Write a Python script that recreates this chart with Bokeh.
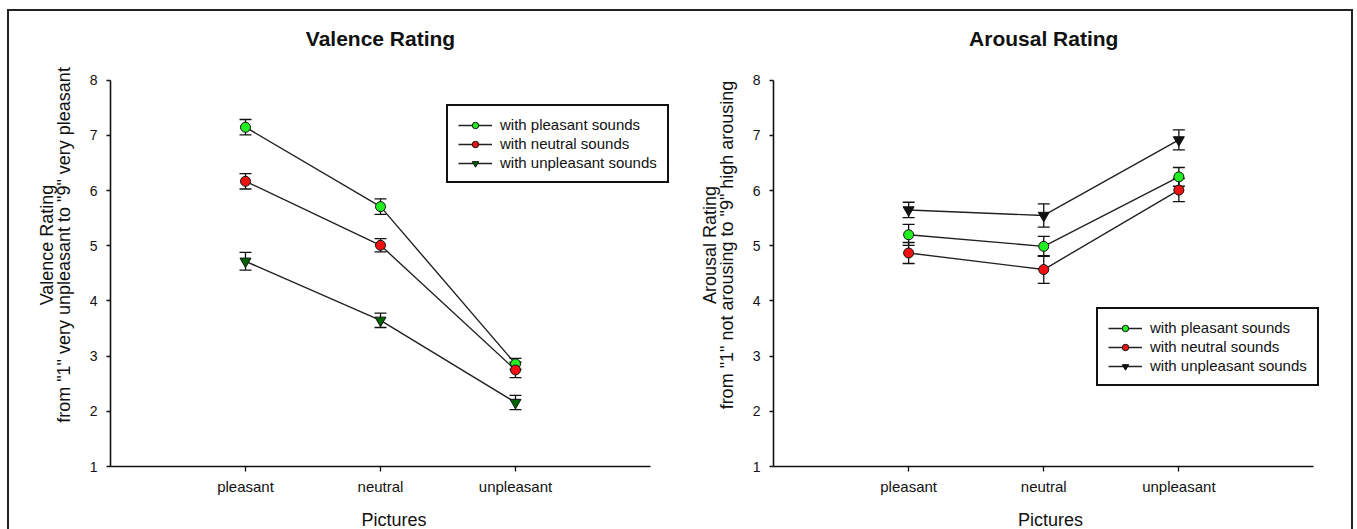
from bokeh.plotting import figure
from bokeh.layouts import row
from bokeh.models import (ColumnDataSource, Whisker, TeeHead, Range1d, FixedTicker,
                          Legend, LegendItem, Label, LinearAxis)
from bokeh.embed import file_html
from bokeh.resources import INLINE

# ---------------- data ----------------
categories = ["pleasant", "neutral", "unpleasant"]
series_names = ["with pleasant sounds", "with neutral sounds", "with unpleasant sounds"]

valence_pleasant = [7.15, 5.71, 2.86]
valence_neutral = [6.17, 5.01, 2.75]
valence_unpleasant = [4.72, 3.65, 2.16]
valence_pleasant_err = [0.14, 0.14, 0.10]
valence_neutral_err = [0.14, 0.12, 0.14]
valence_unpleasant_err = [0.16, 0.13, 0.13]

arousal_pleasant = [5.20, 4.99, 6.25]
arousal_neutral = [4.87, 4.57, 6.01]
arousal_unpleasant = [5.65, 5.55, 6.92]
arousal_pleasant_err = [0.19, 0.18, 0.17]
arousal_neutral_err = [0.19, 0.25, 0.21]
arousal_unpleasant_err = [0.14, 0.21, 0.18]

y_ticks = [1, 2, 3, 4, 5, 6, 7, 8]

FONT = "Liberation Sans"
GREEN = "#22ee22"
RED = "#ee1111"

PX_X = 135.0     # pixels per category step
PX_Y = 55.14     # pixels per rating unit
Y_TOP = 9.03     # extra room above 8 for the title


def make_panel(title, ylabel1, ylabel2, series, errs, styles, legend_loc,
               x_max, border_left, border_right):
    p = figure(frame_width=int(round(x_max * PX_X)),
               frame_height=int(round((Y_TOP - 1) * PX_Y)),
               output_backend="svg", toolbar_location=None,
               x_range=Range1d(0, x_max), y_range=Range1d(1, Y_TOP),
               min_border_left=border_left, min_border_right=border_right,
               min_border_top=12, min_border_bottom=60)
    p.outline_line_color = None
    p.xgrid.visible = False
    p.ygrid.visible = False
    p.background_fill_color = "white"
    p.border_fill_color = "white"

    p.add_layout(Label(x=2, y=8, y_offset=42, text=title, text_align="center",
                       text_baseline="middle", text_font=FONT, text_font_style="bold",
                       text_font_size="21px", text_color="#111111"))

    xs = list(range(1, len(categories) + 1))
    p.xaxis.ticker = FixedTicker(ticks=xs)
    p.xaxis.bounds = (0, 4)
    p.yaxis.bounds = (1, 8)
    p.xaxis.major_label_overrides = {i + 1: c for i, c in enumerate(categories)}
    p.yaxis.ticker = FixedTicker(ticks=y_ticks)
    for ax in (p.xaxis, p.yaxis):
        ax.axis_line_color = "#111111"
        ax.axis_line_width = 1.6
        ax.major_tick_line_color = "#111111"
        ax.major_tick_line_width = 1.3
        ax.major_tick_in = 0
        ax.minor_tick_line_color = None
        ax.major_label_text_font = FONT
        ax.major_label_text_color = "#111111"
        ax.axis_label_text_font = FONT
        ax.axis_label_text_font_style = "normal"
        ax.axis_label_text_font_size = "18px"
        ax.axis_label_text_color = "#111111"
    p.xaxis.major_label_text_font_size = "15px"
    p.yaxis.major_label_text_font_size = "14px"
    p.xaxis.major_tick_out = 5
    p.yaxis.major_tick_out = 4
    p.xaxis.major_label_standoff = 6
    p.yaxis.major_label_standoff = 9
    p.xaxis.axis_label = "Pictures"
    p.xaxis.axis_label_standoff = 12
    p.yaxis.axis_label = ylabel2
    p.yaxis.axis_label_standoff = 13

    # first line of the two-line y-axis title
    ax1 = LinearAxis(ticker=FixedTicker(ticks=[]), axis_line_color=None,
                     major_tick_line_color=None, minor_tick_line_color=None,
                     axis_label=ylabel1, axis_label_standoff=-6,
                     axis_label_text_font=FONT, axis_label_text_font_size="18px",
                     axis_label_text_font_style="normal", axis_label_text_color="#111111")
    ax1.bounds = (1, 8)
    p.add_layout(ax1, "left")

    items = []
    for name, vals, err, (marker, fill) in zip(series_names, series, errs, styles):
        src = ColumnDataSource(dict(x=xs, y=vals,
                                    lo=[v - e for v, e in zip(vals, err)],
                                    hi=[v + e for v, e in zip(vals, err)]))
        w = Whisker(source=src, base="x", upper="hi", lower="lo", dimension="height",
                    line_color="#111111", line_width=1.3,
                    upper_head=TeeHead(size=12, line_color="#111111", line_width=1.3),
                    lower_head=TeeHead(size=12, line_color="#111111", line_width=1.3))
        p.add_layout(w)
        ln = p.line("x", "y", source=src, line_color="#222222", line_width=1.4)
        mk = p.scatter("x", "y", source=src, marker=marker, size=10 if marker == "circle" else 11,
                       fill_color=fill, line_color="#111111", line_width=1)
        items.append(LegendItem(label=name, renderers=[ln, mk]))

    leg = Legend(items=items, location=legend_loc, orientation="vertical")
    leg.label_text_font = FONT
    leg.label_text_font_size = "15px"
    leg.label_text_color = "#111111"
    leg.glyph_width = 34
    leg.glyph_height = 16
    leg.label_height = 16
    leg.spacing = 2
    leg.padding = 10
    leg.margin = 0
    leg.label_standoff = 8
    leg.border_line_color = "#111111"
    leg.border_line_alpha = 1.0
    leg.border_line_width = 2
    leg.background_fill_alpha = 1
    p.add_layout(leg)
    return p


p1 = make_panel("Valence Rating", "Valence Rating",
                'from "1" very unpleasant to "9" very pleasant',
                [valence_pleasant, valence_neutral, valence_unpleasant],
                [valence_pleasant_err, valence_neutral_err, valence_unpleasant_err],
                [("circle", GREEN), ("circle", RED), ("inverted_triangle", "#006400")],
                (336, 283), 4.2, 101, 2)

p2 = make_panel("Arousal Rating", "Arousal Rating",
                'from "1" not arousing to "9" high arousing',
                [arousal_pleasant, arousal_neutral, arousal_unpleasant],
                [arousal_pleasant_err, arousal_neutral_err, arousal_unpleasant_err],
                [("circle", GREEN), ("circle", RED), ("inverted_triangle", "#111111")],
                (323, 80), 4.1, 94, 24)

layout = row(p1, p2, styles={"border": "2px solid #222222", "margin-top": "9px",
                             "margin-left": "7px"})

open("out.html", "w").write(file_html(layout, INLINE))
